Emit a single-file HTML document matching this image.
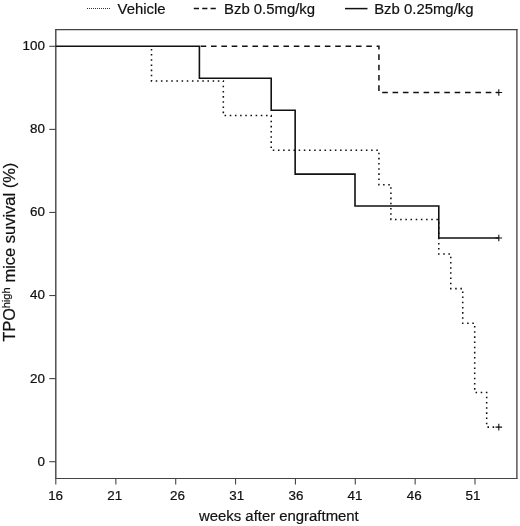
<!DOCTYPE html>
<html><head><meta charset="utf-8"><style>
html,body{margin:0;padding:0;background:#fff;}
svg{display:block;will-change:transform;font-family:"Liberation Sans",sans-serif;}
</style></head><body>
<svg width="520" height="526" viewBox="0 0 520 526">
<rect width="520" height="526" fill="#fff"/>
<g stroke="#444" fill="none">
<line x1="55.1" y1="29.6" x2="517.6" y2="29.6" stroke-width="1.2"/>
<line x1="55.1" y1="478.5" x2="517.6" y2="478.5" stroke-width="1.15"/>
<line x1="55.8" y1="29.6" x2="55.8" y2="478.5" stroke-width="1.4"/>
<line x1="516.9" y1="29.6" x2="516.9" y2="478.5" stroke-width="1.35"/>
</g>
<g stroke="#444" stroke-width="1.1"><line x1="55.80" y1="478.5" x2="55.80" y2="484.6"/><line x1="115.86" y1="478.5" x2="115.86" y2="484.6"/><line x1="175.71" y1="478.5" x2="175.71" y2="484.6"/><line x1="235.57" y1="478.5" x2="235.57" y2="484.6"/><line x1="295.43" y1="478.5" x2="295.43" y2="484.6"/><line x1="355.28" y1="478.5" x2="355.28" y2="484.6"/><line x1="415.14" y1="478.5" x2="415.14" y2="484.6"/><line x1="475.00" y1="478.5" x2="475.00" y2="484.6"/><line x1="49.3" y1="461.7" x2="56" y2="461.7"/><line x1="49.3" y1="378.62" x2="56" y2="378.62"/><line x1="49.3" y1="295.54" x2="56" y2="295.54"/><line x1="49.3" y1="212.46" x2="56" y2="212.46"/><line x1="49.3" y1="129.38" x2="56" y2="129.38"/><line x1="49.3" y1="46.3" x2="56" y2="46.3"/></g>
<g font-size="13.4" fill="#111" stroke="#111" stroke-width="0.24" stroke-linejoin="round">
<text x="48.15" y="499.7">16</text>
<text x="107.35" y="499.7">21</text>
<text x="170.05" y="499.7">26</text>
<text x="229.35" y="499.7">31</text>
<text x="288.45" y="499.7">36</text>
<text x="347.55" y="499.7">41</text>
<text x="406.75" y="499.7">46</text>
<text x="465.45" y="499.7">51</text>
<text x="37.45" y="465.8">0</text>
<text x="30" y="382.6">20</text>
<text x="30" y="299.4">40</text>
<text x="30" y="216.2">60</text>
<text x="30" y="133">80</text>
<text x="22.54" y="49.8">100</text>
</g>
<path d="M151.51,46.3 H151.51 V80.9 H223.33 V115.55 H271.21 V150.15 H378.94 V184.75 H390.91 V219.4 H438.79 V254.0 H450.76 V288.6 H462.73 V323.25 H474.7 V392.45 H486.67 V427.1 H498.64" fill="none" stroke="#111" stroke-width="1.55" stroke-dasharray="1.55,3.625" stroke-dashoffset="95.74"/>
<path d="M199.39,46.3 H378.94 V92.45 H498.64" fill="none" stroke="#111" stroke-width="1.5" stroke-dasharray="5.6,4.75" stroke-dashoffset="143.64"/>
<path d="M55.75,46.3 H199.39 V78.24 H271.21 V110.19 H295.15 V174.12 H355.0 V206.06 H438.79 V238.01 H498.64" fill="none" stroke="#111" stroke-width="1.6"/>
<path d="M495.5,427.1 H502.1 M498.8,423.8 V430.40000000000003 M495.5,238.01 H502.1 M498.8,234.70999999999998 V241.31 M495.5,92.45 H502.1 M498.8,89.15 V95.75" fill="none" stroke="#111" stroke-width="1.1"/>
<!-- legend -->
<line x1="87" y1="8.5" x2="111" y2="8.5" stroke="#333" stroke-width="1" stroke-dasharray="1,1" shape-rendering="crispEdges"/>
<line x1="193.8" y1="8.6" x2="216" y2="8.6" stroke="#111" stroke-width="1.5" stroke-dasharray="5.2,3.2"/>
<line x1="345" y1="8.6" x2="367.5" y2="8.6" stroke="#111" stroke-width="1.5"/>
<g font-size="14.9" fill="#111" stroke="#111" stroke-width="0.2">
<text x="117.6" y="13.8">Vehicle</text>
<text x="224" y="13.8">Bzb 0.5mg/kg</text>
<text x="374.2" y="13.8">Bzb 0.25mg/kg</text>
</g>
<text x="199" y="520.5" font-size="14.9" fill="#111" stroke="#111" stroke-width="0.2">weeks after engraftment</text>
<g fill="#111" stroke="#111" stroke-width="0.2">
<text transform="translate(15.4,341.5) rotate(-90) scale(1.012,1)" font-size="16">TPO</text>
<text transform="translate(9.6,308.3) rotate(-90)" font-size="11">high</text>
<text transform="translate(15.4,282.6) rotate(-90) scale(1.031,1)" font-size="16">mice suvival (%)</text>
</g>
</svg>
</body></html>
